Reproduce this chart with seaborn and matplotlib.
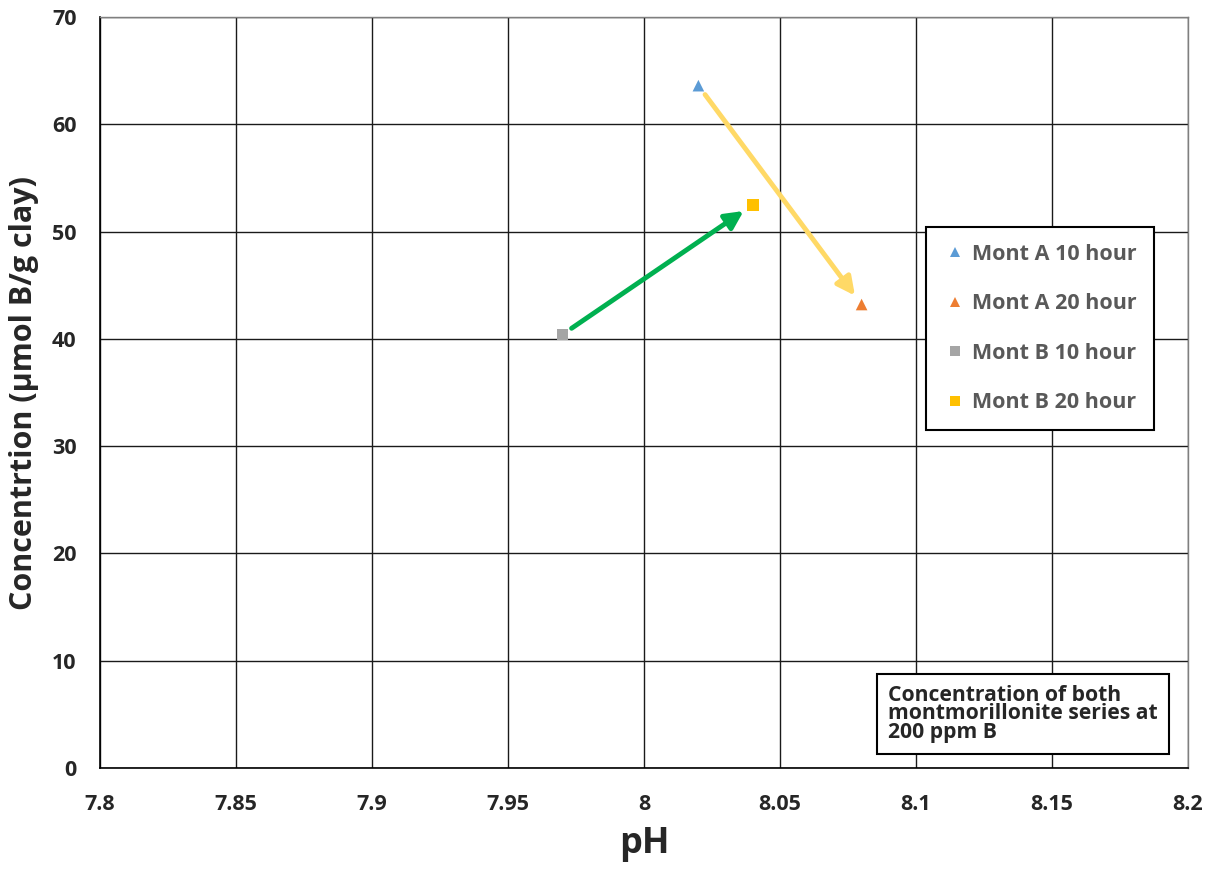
import matplotlib
matplotlib.use("Agg")
import matplotlib.pyplot as plt
import seaborn as sns
import pandas as pd

# Adsorbed boron for the two montmorillonite series
series = ["Mont A 10 hour", "Mont A 20 hour", "Mont B 10 hour", "Mont B 20 hour"]
ph_values = [8.02, 8.08, 7.97, 8.04]
conc_values = [63.6, 43.2, 40.4, 52.5]
colors = ["#5B9BD5", "#ED7D31", "#A5A5A5", "#FFC000"]
markers = ["^", "^", "s", "s"]

x_ticks = [7.8, 7.85, 7.9, 7.95, 8.0, 8.05, 8.1, 8.15, 8.2]
x_tick_labels = ["7.8", "7.85", "7.9", "7.95", "8", "8.05", "8.1", "8.15", "8.2"]
y_ticks = [0, 10, 20, 30, 40, 50, 60, 70]

df = pd.DataFrame({"pH": ph_values, "conc": conc_values, "series": series})

sns.set_theme(style="white")
plt.rcParams["font.family"] = ["Open Sans", "DejaVu Sans"]
plt.rcParams["font.weight"] = "bold"

fig = plt.figure(figsize=(12.17, 8.73), dpi=100)
ax = fig.add_axes([100 / 1217, 1 - 768 / 873, 1088 / 1217, 751 / 873])

sns.scatterplot(
    data=df, x="pH", y="conc", hue="series", style="series",
    palette=dict(zip(series, colors)), markers=dict(zip(series, markers)),
    s=70, linewidth=0, ax=ax, zorder=3,
)

# Arrows linking the 10 hour and 20 hour results of each series
def link(i, j, color):
    ax.annotate(
        "", xy=(ph_values[j], conc_values[j]), xytext=(ph_values[i], conc_values[i]),
        arrowprops=dict(arrowstyle="-|>,head_length=0.9,head_width=0.45",
                        color=color, lw=3.5, shrinkA=8, shrinkB=8),
        zorder=2,
    )

link(2, 3, "#00B050")
link(0, 1, "#FFD966")

ax.set_xlim(7.8, 8.2)
ax.set_ylim(0, 70)
ax.set_xticks(x_ticks)
ax.set_xticklabels(x_tick_labels)
ax.set_yticks(y_ticks)
ax.tick_params(axis="both", labelsize=15.5, length=0)
ax.tick_params(axis="x", pad=19)
ax.tick_params(axis="y", pad=17)
for lab in ax.get_xticklabels() + ax.get_yticklabels():
    lab.set_fontweight("bold")
ax.grid(True, color="#1a1a1a", linewidth=1.0)
ax.set_axisbelow(True)
for side in ["top", "right"]:
    ax.spines[side].set_color("#7f7f7f")
    ax.spines[side].set_linewidth(1.0)
for side in ["left", "bottom"]:
    ax.spines[side].set_color("#000000")
    ax.spines[side].set_linewidth(1.2)

ax.set_xlabel("pH", fontsize=26, fontweight="bold", labelpad=8)
ax.set_ylabel("Concentrtion (µmol B/g clay)", fontsize=22, fontweight="bold", labelpad=9)

leg = ax.legend(
    loc="upper left", bbox_to_anchor=(815 / 1088, 1 - 199 / 751),
    frameon=True, fancybox=False, edgecolor="black", framealpha=1,
    prop=dict(size=15.5, weight="bold"), labelspacing=1.32, handletextpad=0.25,
    borderpad=0.8, markerscale=0.8, handlelength=1.1,
)
leg.get_frame().set_linewidth(1.5)
for t in leg.get_texts():
    t.set_color("#595959")

ax.text(
    0.7245, 0.111,
    "Concentration of both\nmontmorillonite series at\n200 ppm B",
    transform=ax.transAxes, ha="left", va="top", fontsize=15.2, fontweight="bold",
    linespacing=0.86,
    bbox=dict(boxstyle="square,pad=0.52", facecolor="white", edgecolor="black", linewidth=1.5),
    zorder=5,
)

fig.savefig("out.png", dpi=100)
